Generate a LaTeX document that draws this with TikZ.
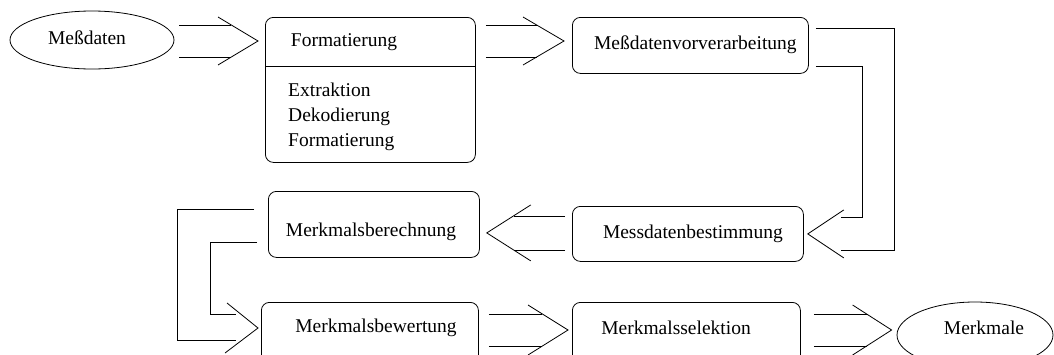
\documentclass[tikz,border=0pt]{standalone}
\usepackage{fontspec}
\setmainfont{Liberation Serif}
\usetikzlibrary{calc,shapes.geometric}

\tikzset{
  conn/.style={line width=0.8pt, line join=miter},
  box/.style={draw, line width=0.8pt, rounded corners=8pt, inner sep=0pt, anchor=north west},
  oval/.style={draw, ellipse, line width=0.8pt, inner sep=0pt},
  lbl/.style={font=\fontsize{19.5}{25.5}\selectfont, inner sep=0pt, text height=13.5pt, text depth=4.5pt},
}

% Broad double-shafted arrow with an open chevron head.
% #1 start, #2 tip, #3 direction (1 right, -1 left), #4 head length, #5 head half-width, #6 shaft half-gap
\newcommand\fatarrow[6]{%
  \pgfmathsetmacro\arrArm{-(#3)*(#4)}%
  \pgfmathsetmacro\arrShaft{-(#3)*(#4)*(#6)/(#5)}%
  \draw[conn] ($(#1|-#2)+(0,-#6)$) -- ($(#2)+(\arrShaft,-#6)$);
  \draw[conn] ($(#1|-#2)+(0,#6)$) -- ($(#2)+(\arrShaft,#6)$);
  \draw[conn] ($(#2)+(\arrArm,-#5)$) -- (#2) -- ($(#2)+(\arrArm,#5)$);
}

\begin{document}
\begin{tikzpicture}[x=1pt,y=-1pt]
  \clip (0,0) rectangle (1054,354);

  % --- nodes ---
  \node[oval, minimum width=164, minimum height=58] (src) at (92,40) {};
  \node[lbl] (srcT) at ($(src.center)+(-5,0)$) {Meßdaten};

  \node[box, minimum width=210, minimum height=145] (fmt) at (265,17) {};
  \draw[conn] ($(fmt.north west)+(0,49)$) -- ($(fmt.north east)+(0,49)$);
  \node[lbl] (fmtT) at ($(fmt.north west)+(79,25)$) {Formatierung};
  \node[lbl, anchor=west] (fmtA) at ($(fmt.north west)+(23,75)$) {Extraktion};
  \node[lbl, anchor=west] (fmtB) at ($(fmt.north west)+(23,100)$) {Dekodierung};
  \node[lbl, anchor=west] (fmtC) at ($(fmt.north west)+(23,125)$) {Formatierung};

  \node[box, minimum width=236, minimum height=56] (pre) at (572,17) {};
  \node[lbl] (preT) at ($(pre.center)+(5,0)$) {Meßdatenvorverarbeitung};

  \node[box, minimum width=231, minimum height=55] (det) at (572,206) {};
  \node[lbl] (detT) at ($(det.center)+(5,0)$) {Messdatenbestimmung};

  \node[box, minimum width=211, minimum height=66] (ber) at (268,191) {};
  \node[lbl] (berT) at ($(ber.north west)+(103,41)$) {Merkmalsberechnung};

  \node[box, minimum width=217, minimum height=70] (bew) at (261,302) {};
  \node[lbl] (bewT) at ($(bew.north west)+(115,26)$) {Merkmalsbewertung};

  \node[box, minimum width=228, minimum height=70] (sel) at (572,302) {};
  \node[lbl] (selT) at ($(sel.north west)+(104,28)$) {Merkmalsselektion};

  \node[oval, minimum width=156, minimum height=66] (out) at (975,335) {};
  \node[lbl] (outT) at ($(out.center)+(9,-5)$) {Merkmale};

  % --- straight broad arrows ---
  \coordinate (a1s) at ($(src.east)+(5,0)$);
  \coordinate (a1t) at ($(fmt.north west)+(-7,24)$);
  \fatarrow{a1s}{a1t}{1}{40}{24}{16}

  \coordinate (a2s) at ($(fmt.north east)+(10,0)$);
  \coordinate (a2t) at ($(pre.north west)+(-8,24)$);
  \fatarrow{a2s}{a2t}{1}{41}{24}{16}

  \coordinate (a3s) at ($(det.west)+(-7,0)$);
  \coordinate (a3t) at ($(det.west -| ber.east)+(7,-1)$);
  \fatarrow{a3s}{a3t}{-1}{44}{28}{17}

  \coordinate (a4s) at ($(bew.north east)+(10,0)$);
  \coordinate (a4t) at ($(sel.north west)+(-4,28)$);
  \fatarrow{a4s}{a4t}{1}{40}{25}{16}

  \coordinate (a5s) at ($(sel.north east)+(13,0)$);
  \coordinate (a5t) at ($(out.west)+(-5,-5)$);
  \fatarrow{a5s}{a5t}{1}{39}{25}{16}

  % --- bent broad arrow: Meßdatenvorverarbeitung -> Messdatenbestimmung ---
  \coordinate (b1o) at ($(pre.north east)+(7,11)$);
  \coordinate (b1i) at ($(pre.south east)+(7,-7)$);
  \coordinate (b1t) at ($(det.east)+(4,0)$);
  \draw[conn] (b1o) -- ++(79,0) |- ($(b1t)+(33,16)$);
  \draw[conn] (b1i) -- ++(47,0) |- ($(b1t)+(33,-17)$);
  \draw[conn] ($(b1t)+(36,-24)$) -- (b1t) -- ($(b1t)+(36,24)$);

  % --- bent broad arrow: Merkmalsberechnung -> Merkmalsbewertung ---
  \coordinate (b2o) at ($(ber.north west)+(-14,18)$);
  \coordinate (b2i) at ($(ber.north west)+(-11,51)$);
  \coordinate (b2t) at ($(bew.north west)+(-3,26)$);
  \draw[conn] (b2o) -- ++(-77,0) |- ($(b2t)+(-22,12)$);
  \draw[conn] (b2i) -- ++(-47,0) |- ($(b2t)+(-22,-14)$);
  \draw[conn] ($(b2t)+(-31,-25)$) -- (b2t) -- ($(b2t)+(-33,25)$);
\end{tikzpicture}
\end{document}
